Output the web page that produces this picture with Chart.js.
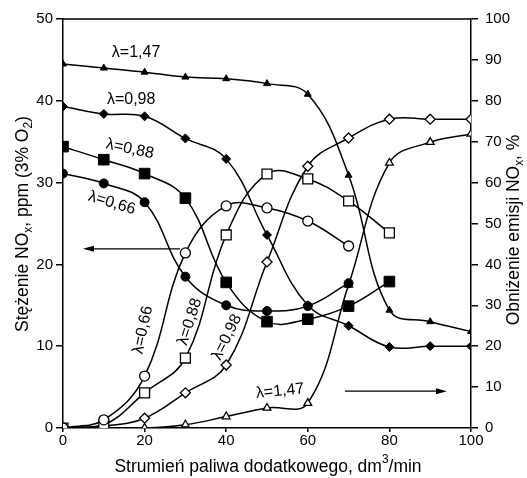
<!DOCTYPE html>
<html>
<head>
<meta charset="utf-8">
<script src="https://cdn.jsdelivr.net/npm/chart.js@4"></script>
<style>
  html, body { margin: 0; padding: 0; background: #fff; }
  #wrap { width: 527px; height: 478px; }
</style>
</head>
<body>
<div id="wrap"><canvas id="c" width="527" height="478"></canvas></div>
<script>
// --- data ---
const flow = [0, 10, 20, 30, 40, 50, 60, 70, 80, 90, 100];
const xTicks = [0, 20, 40, 60, 80, 100];

// NOx concentration, ppm (left axis), filled markers
const conc147 = [44.5, 44.0, 43.5, 42.9, 42.7, 42.1, 40.8, 30.9, 14.4, 13.0, 11.8];
const conc098 = [39.3, 38.4, 38.1, 35.4, 32.9, 23.6, 15.0, 12.5, 9.9, 10.0, 10.0];
const conc088 = [34.4, 32.8, 31.1, 28.1, 17.8, 13.0, 13.3, 14.9, 17.9];
const conc066 = [31.1, 29.9, 27.6, 18.5, 15.0, 14.3, 14.9, 17.7];

// NOx reduction, % (right axis), open markers
const red066 = [0, 2.0, 12.7, 42.8, 54.3, 53.8, 50.6, 44.5];
const red088 = [0, 0.7, 8.6, 17.1, 47.2, 62.1, 60.9, 55.5, 47.7];
const red098 = [0, 0.5, 2.4, 8.6, 15.4, 40.6, 64.0, 70.9, 75.5, 75.5, 75.5];
const red147 = [0, 0, 0, 0.8, 2.8, 4.9, 6.1, 35.0, 64.8, 69.9, 71.9];

const FONT = "'Liberation Sans', Arial, sans-serif";
const TICKFONT = "'Liberation Sans Narrow', 'Arial Narrow', 'Liberation Sans', sans-serif";
const pts = (ys) => ys.map((v, i) => ({ x: flow[i], y: v }));

const line = (ys, axis, style, r, open) => ({
  data: pts(ys),
  yAxisID: axis,
  borderColor: '#000',
  borderWidth: 1.5,
  tension: 0.4,
  pointStyle: style,
  pointRadius: r,
  pointHoverRadius: r,
  pointBorderWidth: open ? 1.3 : 1,
  pointBorderColor: '#000',
  pointBackgroundColor: open ? '#fff' : '#000'
});

// curve labels (data coords on left axis)
const curveLabels = [
  { t: 'λ=1,47', x: 17.9, y: 45.9, a: 0 },
  { t: 'λ=0,98', x: 16.7, y: 40.2, a: 0 },
  { t: 'λ=0,88', x: 16.4, y: 34.1, a: 12 },
  { t: 'λ=0,66', x: 12.0, y: 27.5, a: 17 },
  { t: 'λ=0,66', x: 19.6, y: 12.0, a: -78 },
  { t: 'λ=0,88', x: 31.1, y: 13.0, a: -72 },
  { t: 'λ=0,98', x: 40.2, y: 11.1, a: -64 },
  { t: 'λ=1,47', x: 53.2, y: 4.5, a: -6 }
];
const arrows = [
  { x1: 28.7, x2: 4.9, y: 21.9 },
  { x1: 69.1, x2: 94.1, y: 4.5 }
];

function richText(ctx, parts, x, y, size) {
  let w = 0;
  parts.forEach(p => {
    ctx.font = (p.s ? size * 0.68 : size) + 'px ' + FONT;
    w += ctx.measureText(p.t).width;
  });
  let cx = x - w / 2;
  ctx.textAlign = 'left';
  ctx.textBaseline = 'middle';
  parts.forEach(p => {
    const fs = p.s ? size * 0.68 : size;
    ctx.font = fs + 'px ' + FONT;
    const dy = p.s === 'sub' ? size * 0.32 : p.s === 'sup' ? -size * 0.4 : 0;
    ctx.fillText(p.t, cx, y + dy);
    cx += ctx.measureText(p.t).width;
  });
}

const extras = {
  id: 'extras',
  afterDraw(chart) {
    const { ctx, chartArea: ca, scales } = chart;
    const sx = scales.x, sy = scales.y;
    ctx.save();
    ctx.strokeStyle = '#000';
    ctx.lineWidth = 1.5;
    ctx.beginPath();
    ctx.moveTo(ca.left, ca.top);
    ctx.lineTo(ca.right, ca.top);
    ctx.stroke();

    ctx.fillStyle = '#000';
    curveLabels.forEach(l => {
      ctx.save();
      ctx.translate(sx.getPixelForValue(l.x), sy.getPixelForValue(l.y));
      ctx.rotate(l.a * Math.PI / 180);
      ctx.font = '16px ' + FONT;
      ctx.textAlign = 'center';
      ctx.textBaseline = 'middle';
      ctx.fillText(l.t, 0, 0);
      ctx.restore();
    });

    ctx.lineWidth = 1.3;
    arrows.forEach(a => {
      const x1 = sx.getPixelForValue(a.x1), x2 = sx.getPixelForValue(a.x2), y = sy.getPixelForValue(a.y);
      const d = Math.sign(x2 - x1);
      ctx.beginPath();
      ctx.moveTo(x1, y);
      ctx.lineTo(x2 - d * 6, y);
      ctx.stroke();
      ctx.beginPath();
      ctx.moveTo(x2, y);
      ctx.lineTo(x2 - d * 11, y - 3);
      ctx.lineTo(x2 - d * 11, y + 3);
      ctx.closePath();
      ctx.fill();
    });

    // axis titles
    ctx.save();
    ctx.translate(23, 224);
    ctx.rotate(-Math.PI / 2);
    richText(ctx, [{ t: 'Stężenie NO' }, { t: 'x', s: 'sub' }, { t: ', ppm (3% O' }, { t: '2', s: 'sub' }, { t: ')' }], 0, 0, 17.5);
    ctx.restore();

    ctx.save();
    ctx.translate(514, 230);
    ctx.rotate(-Math.PI / 2);
    richText(ctx, [{ t: 'Obniżenie emisji NO' }, { t: 'x', s: 'sub' }, { t: ', %' }], 0, 0, 17.5);
    ctx.restore();

    richText(ctx, [{ t: 'Strumień paliwa dodatkowego, dm' }, { t: '3', s: 'sup' }, { t: '/min' }], 268, 467, 17.5);
    ctx.restore();
  }
};

const axisStyle = {
  grid: { drawOnChartArea: false, drawTicks: true, tickLength: 7, color: '#000', lineWidth: 1.5 },
  border: { display: true, color: '#000', width: 1.5 }
};

new Chart(document.getElementById('c'), {
  type: 'line',
  data: {
    datasets: [
      line(conc147, 'y', 'triangle', 4, false),
      line(conc098, 'y', 'rectRot', 4.5, false),
      line(conc088, 'y', 'rect', 7.5, false),
      line(conc066, 'y', 'circle', 4.5, false),
      line(red066, 'y2', 'circle', 5, true),
      line(red088, 'y2', 'rect', 7, true),
      line(red098, 'y2', 'rectRot', 5, true),
      line(red147, 'y2', 'triangle', 4.5, true)
    ]
  },
  options: {
    responsive: false,
    animation: false,
    layout: { padding: { top: 19, left: 0, right: 0, bottom: 0 } },
    plugins: { legend: { display: false }, tooltip: { enabled: false } },
    scales: {
      x: {
        type: 'linear', min: 0, max: 100,
        afterBuildTicks: s => { s.ticks = xTicks.map(v => ({ value: v })); },
        afterFit: s => { s.height = 50; },
        ticks: { color: '#000', font: { family: TICKFONT, size: 15 }, padding: 0, maxRotation: 0 },
        ...axisStyle,
        grid: { ...axisStyle.grid, tickLength: 4 }
      },
      y: {
        position: 'left', min: 0, max: 50,
        afterFit: s => { s.width = 63; },
        ticks: { stepSize: 10, color: '#000', font: { family: TICKFONT, size: 15 }, padding: 3 },
        ...axisStyle
      },
      y2: {
        position: 'right', min: 0, max: 100,
        afterFit: s => { s.width = 56; },
        ticks: { stepSize: 10, color: '#000', font: { family: TICKFONT, size: 15 }, padding: 7 },
        ...axisStyle
      }
    }
  },
  plugins: [extras]
});
</script>
</body>
</html>
